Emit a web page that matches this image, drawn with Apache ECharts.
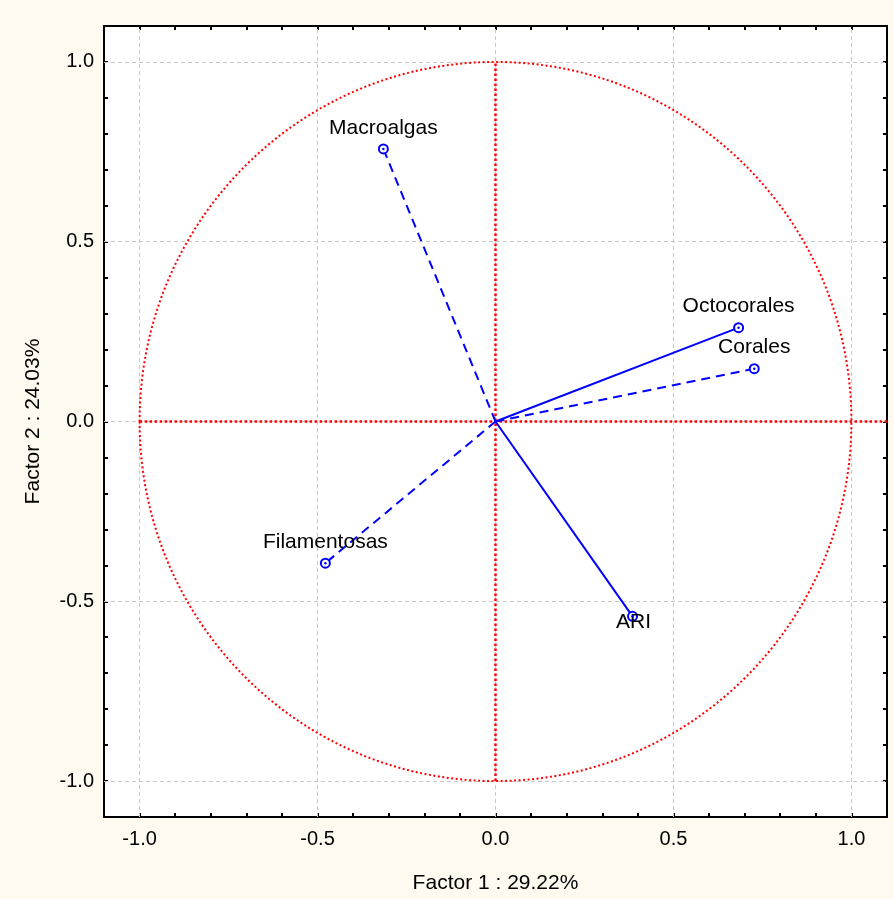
<!DOCTYPE html>
<html><head><meta charset="utf-8">
<script src="https://cdn.jsdelivr.net/npm/echarts@6/dist/echarts.min.js"></script>
<style>html,body{margin:0;padding:0;background:#FFFAF0;}#c{width:894px;height:899px;}</style>
</head><body><div id="c"></div>
<script>
// ---- data ----
const variables = ['Macroalgas', 'Octocorales', 'Corales', 'Filamentosas', 'ARI'];
const factor1 = [-0.315, 0.683, 0.727, -0.478, 0.385];
const factor2 = [0.758, 0.261, 0.147, -0.394, -0.542];
const solidVariables = ['Octocorales', 'ARI'];
const axisMin = -1.1, axisMax = 1.1, minorStep = 0.1;
const labelTicks = [-1.0, -0.5, 0.0, 0.5, 1.0];
const circleCenter = [0, 0], circleRadius = 1;
const hAxisLine = [[-1, 0], [1.1, 0]];
const vAxisLine = [[0, -1], [0, 1]];
const xAxisName = 'Factor 1 : 29.22%';
const yAxisName = 'Factor 2 : 24.03%';

const FONT = 'Liberation Sans, Arial, sans-serif';
const isLabelTick = v => labelTicks.some(t => Math.abs(t - v) < 1e-6);
const fmt = v => isLabelTick(v) ? Number(v).toFixed(1) : '';

function axisBase(position, showLabel) {
  return {
    type: 'value', min: axisMin, max: axisMax, interval: minorStep, position: position,
    axisLine: {show: true, onZero: false, lineStyle: {color: '#000', width: 2}},
    axisTick: {show: true, inside: true, length: 4, lineStyle: {color: '#000', width: 2}},
    axisLabel: {show: showLabel, formatter: fmt, fontSize: 20, color: '#000', fontFamily: FONT,
                showMinLabel: true, showMaxLabel: true},
    splitLine: {show: false}
  };
}

const xBottom = Object.assign(axisBase('bottom', true), {
  name: xAxisName, nameLocation: 'middle', nameGap: 56,
  nameTextStyle: {fontSize: 21, color: '#000', fontFamily: FONT}
});
xBottom.axisLabel.margin = 12;
const xTop = axisBase('top', false);
const yLeft = Object.assign(axisBase('left', true), {
  name: yAxisName, nameLocation: 'middle', nameGap: 60,
  nameTextStyle: {fontSize: 21, color: '#000', fontFamily: FONT}
});
yLeft.axisLabel.margin = 10;
const yRight = axisBase('right', false);

const gridStyle = {color: '#c8c8c8', type: [4, 3], width: 1};
const redStyle = {color: '#ff0000', width: 2.5, type: [2.5, 2.5]};

const series = [];
// red reference axes with gray grid as markLine
series.push({
  type: 'line', xAxisIndex: 0, yAxisIndex: 0, data: hAxisLine, symbol: 'none', silent: true, z: 3,
  lineStyle: redStyle,
  markLine: {
    silent: true, symbol: ['none', 'none'], label: {show: false}, lineStyle: gridStyle, z: 1,
    data: labelTicks.map(v => ({xAxis: v})).concat(labelTicks.map(v => ({yAxis: v})))
  }
});
series.push({
  type: 'line', xAxisIndex: 0, yAxisIndex: 0, data: vAxisLine, symbol: 'none', silent: true, z: 3,
  lineStyle: redStyle
});
// circle
series.push({
  type: 'custom', xAxisIndex: 0, yAxisIndex: 0, data: [[circleCenter[0], circleCenter[1], circleRadius]],
  silent: true, z: 3,
  renderItem: function (params, api) {
    const c = api.coord([api.value(0), api.value(1)]);
    const s = api.size([api.value(2), api.value(2)]);
    return {type: 'ellipse', shape: {cx: c[0], cy: c[1], rx: s[0], ry: s[1]},
            style: {fill: null, stroke: '#ff0000', lineWidth: 2, lineDash: [2, 2.5]}};
  }
});
// vectors
variables.forEach((name, i) => {
  series.push({
    type: 'line', name: name, xAxisIndex: 0, yAxisIndex: 0, z: 5,
    data: [[0, 0], [factor1[i], factor2[i]]], symbol: 'none', silent: true,
    lineStyle: {color: '#0000ff', width: 2,
                type: solidVariables.includes(name) ? 'solid' : [9, 6]}
  });
});
// endpoints with labels
series.push({
  type: 'scatter', xAxisIndex: 0, yAxisIndex: 0, z: 6, symbol: 'emptyCircle', symbolSize: 9,
  itemStyle: {color: '#0000ff', borderWidth: 1.5, opacity: 1},
  label: {show: true, position: 'top', distance: 5, fontSize: 21, color: '#000', fontFamily: FONT,
          opacity: 1, formatter: p => p.name},
  data: variables.map((name, i) => {
    const d = {name: name, value: [factor1[i], factor2[i]]};
    if (name === 'ARI') d.label = {position: 'inside', offset: [1, 6], color: '#000'};
    return d;
  })
});
series.push({
  type: 'scatter', xAxisIndex: 0, yAxisIndex: 0, z: 7, symbol: 'circle', symbolSize: 2.5,
  itemStyle: {color: '#0000ff', opacity: 1}, silent: true,
  data: variables.map((name, i) => [factor1[i], factor2[i]])
});

const chart = echarts.init(document.getElementById('c'));
chart.setOption({
  backgroundColor: '#FFFAF0',
  animation: false,
  grid: {left: 104, right: 7, top: 26, bottom: 81, show: true, backgroundColor: '#ffffff', borderWidth: 0},
  xAxis: [xBottom, xTop],
  yAxis: [yLeft, yRight],
  series: series
});
</script>
</body></html>
